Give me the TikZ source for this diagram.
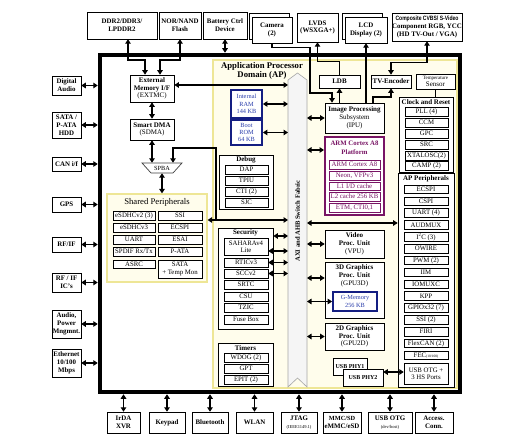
\documentclass[tikz,border=0pt]{standalone}
\usepackage{fontspec}
\setmainfont{Liberation Serif}
\newfontfamily\narrowsans[FakeStretch=0.8]{Liberation Sans}
\usetikzlibrary{arrows.meta,shadows,calc}
\definecolor{cream}{RGB}{255,253,236}
\definecolor{ylw}{RGB}{238,230,150}
\definecolor{navy}{RGB}{20,30,130}
\definecolor{blu}{RGB}{40,60,170}
\definecolor{purp}{RGB}{120,20,100}
\newcommand\mybox[7]{%
  \pgfmathsetmacro\mbw{#5-#3}%
  \pgfmathsetmacro\mbh{#6-#4}%
  \pgfmathsetmacro\mbx{(#3+#5)/2}%
  \pgfmathsetmacro\mby{(#4+#6)/2}%
  \node[#1, minimum width=\mbw pt, minimum height=\mbh pt] (#2) at (\mbx,\mby) {#7};}
\tikzset{
 ext/.style={draw, fill=white, line width=0.5pt, drop shadow={shadow xshift=0.9pt,shadow yshift=-0.9pt,opacity=1,fill=black}, align=center, inner sep=0pt, font=\bfseries\fontsize{6.9}{7.8}\selectfont},
 item/.style={draw, fill=white, line width=0.5pt, drop shadow={shadow xshift=0.7pt,shadow yshift=-0.7pt,opacity=1,fill=black}, align=center, inner sep=0pt, font=\fontsize{6.8}{7.4}\selectfont},
 grp/.style={draw, fill=white, line width=0.6pt, drop shadow={shadow xshift=0.8pt,shadow yshift=-0.8pt,opacity=1,fill=black}, align=center, inner sep=0pt},
 grptxt/.style={grp, font=\fontsize{7}{7.8}\selectfont},
 ttl/.style={inner sep=0pt, align=center, font=\bfseries\fontsize{7}{7.5}\selectfont},
 mem/.style={draw=navy, line width=1.8pt, fill=white, align=center, inner sep=0pt, text=blu, font=\fontsize{6.3}{7.4}\selectfont},
 pitem/.style={draw=purp, line width=0.7pt, fill=white, align=center, inner sep=0pt, text=purp, font=\fontsize{6.8}{7.4}\selectfont},
 dbl/.style={line width=1.2pt, {Triangle[length=4.5pt,width=5.5pt]}-{Triangle[length=4.5pt,width=5.5pt]}},
 sgl/.style={line width=1.2pt, -{Triangle[length=4.5pt,width=5.5pt]}},
 wire/.style={line width=0.8pt},
}
\begin{document}
\begin{tikzpicture}[x=1pt,y=-1pt]
\fill[white] (0,0) rectangle (505,443);
\useasboundingbox (0,0) rectangle (505,443);
% main chip
\node[draw, line width=4.5pt, fill=white, minimum width=360pt, minimum height=337pt, inner sep=0pt] (chip) at (280,223.5) {};
% AP domain
\mybox{draw=ylw, line width=1.2pt, fill=cream}{ap}{213}{60}{457}{388}{}
\node[inner sep=0pt, align=center, font=\bfseries\fontsize{8.7}{9.7}\selectfont] (aptitle) at (262,71) {Application Processor\\Domain (AP)};
% AXI fabric
\node[minimum width=19pt, minimum height=307pt, inner sep=0pt, outer sep=0pt] (axi) at (297.5,233.5) {};
\draw[draw=gray!70, fill=gray!8, line width=0.6pt] (axi.south west) -- (axi.north west) -- ($(axi.north)+(0,-7)$) -- (axi.north east) -- (axi.south east) -- ($(axi.south)+(0,-9)$) -- cycle;
\node[rotate=90, inner sep=0pt, font=\bfseries\fontsize{6.6}{7}\selectfont] (axit) at (297.5,221) {AXI and AHB Switch Fabric};
% top external
\mybox{ext}{ddr}{87}{12}{157}{39}{DDR2/DDR3/\\LPDDR2}
\mybox{ext}{flash}{159}{12}{201}{39}{NOR/NAND\\Flash}
\mybox{ext}{batt}{203}{12}{247}{39}{Battery Ctrl\\Device}
\mybox{ext}{camb}{249}{13}{289}{39}{}
\mybox{ext}{cam}{252}{17}{292}{43}{Camera\\(2)}
\mybox{ext}{lvds}{297}{13}{338}{42}{LVDS\\(WSXGA+)}
\mybox{ext}{lcdb}{342}{13}{382}{39}{}
\mybox{ext}{lcd}{345}{17}{387}{43}{LCD\\Display (2)}
\mybox{ext}{comp}{392}{13}{462}{41}{\narrowsans\fontsize{6.3}{8}\selectfont Composite CVBS/ S-Video\\Component RGB, YCC\\(HD TV-Out / VGA)}
% left external
\mybox{ext}{daudio}{52}{76}{81}{95}{Digital\\Audio}
\mybox{ext}{sata}{52}{112}{81}{138}{SATA /\\P-ATA\\HDD}
\mybox{ext}{can}{52}{157}{81}{171}{CAN i/f}
\mybox{ext}{gps}{52}{197}{81}{212}{GPS}
\mybox{ext}{rfif}{52}{237}{81}{252}{RF/IF}
\mybox{ext}{rfic}{52}{273}{81}{292}{RF / IF\\IC's}
\mybox{ext}{audio}{52}{310}{81}{338}{Audio,\\Power\\Mngmnt.}
\mybox{ext}{eth}{52}{349}{81}{377}{Ethernet\\10/100\\Mbps}
% bottom external
\mybox{ext}{irda}{107}{412}{140}{433}{IrDA\\XVR}
\mybox{ext}{keypad}{149}{412}{185}{433}{Keypad}
\mybox{ext}{bt}{192}{412}{228}{433}{Bluetooth}
\mybox{ext}{wlan}{236}{412}{273}{433}{WLAN}
\mybox{ext}{jtag}{281}{412}{317}{433}{JTAG\\{\mdseries\fontsize{4.5}{5.5}\selectfont(IEEE1149.1)}}
\mybox{ext}{mmc}{323}{412}{361}{433}{\fontsize{6.3}{7.6}\selectfont MMC/SD\\eMMC/eSD}
\mybox{ext}{usbotg}{368}{412}{412}{433}{USB OTG\\{\mdseries\fontsize{4.5}{5.5}\selectfont(dev/host)}}
\mybox{ext}{access}{415}{412}{453}{433}{Access.\\Conn.}
% left internal
\mybox{grptxt}{extmc}{130}{75}{174}{102}{\textbf{External}\\\textbf{Memory I/F}\\(EXTMC)}
\mybox{grptxt}{sdma}{130}{119}{174}{140}{\textbf{Smart DMA}\\(SDMA)}
\draw[draw=black!75, fill=white, line width=0.7pt] (142,163) -- (182,163) -- (173,173) -- (151,173) -- cycle;
\node[inner sep=0pt, minimum width=40pt, minimum height=10pt, font=\fontsize{6.3}{7}\selectfont] (spba) at (162,168) {SPBA};
% shared peripherals
\mybox{draw=ylw, line width=1.2pt, fill=cream}{shp}{107}{194}{207}{282}{}
\node[inner sep=0pt, font=\fontsize{8.7}{9}\selectfont] (shpt) at (157,202) {Shared Peripherals};
\mybox{item}{s1}{113}{211}{155}{220}{eSDHCv2 (3)}
\mybox{item}{s2}{158}{211}{202}{220}{SSI}
\mybox{item}{s3}{113}{223}{155}{232}{eSDHCv3}
\mybox{item}{s4}{158}{223}{202}{232}{ECSPI}
\mybox{item}{s5}{113}{235}{155}{244}{UART}
\mybox{item}{s6}{158}{235}{202}{244}{ESAI}
\mybox{item}{s7}{113}{247}{155}{256}{SPDIF Rx/Tx}
\mybox{item}{s8}{158}{247}{202}{256}{P-ATA}
\mybox{item}{s9}{113}{260}{155}{268}{ASRC}
\mybox{item}{s10}{158}{260}{202}{278}{SATA\\+ Temp Mon}
% memories
\mybox{mem}{ram}{231}{90}{262}{118}{Internal\\RAM\\144 KB}
\mybox{mem}{rom}{231}{120}{262}{145}{Boot\\ROM\\64 KB}
% debug
\mybox{grp}{dbg}{219}{155}{273}{209}{}
\node[ttl] (dbgt) at (246,160) {Debug};
\mybox{item}{d1}{225}{165}{268}{174}{DAP}
\mybox{item}{d2}{225}{176}{268}{185}{TPIU}
\mybox{item}{d3}{225}{187}{268}{196}{CTI (2)}
\mybox{item}{d4}{225}{198}{268}{207}{SJC}
% security
\mybox{grp}{sec}{218}{228}{273}{329}{}
\node[ttl] (sect) at (245.5,233) {Security};
\mybox{item}{sahara}{224}{238}{268}{255}{SAHARAv4\\Lite}
\mybox{item}{rtic}{224}{258}{268}{267}{RTICv3}
\mybox{item}{scc}{224}{269}{268}{278}{SCCv2}
\mybox{item}{srtc}{224}{280}{268}{289}{SRTC}
\mybox{item}{csu}{224}{292}{268}{301}{CSU}
\mybox{item}{tzic}{224}{303}{268}{312}{TZIC}
\mybox{item}{fuse}{224}{315}{268}{324}{Fuse Box}
% timers
\mybox{grp}{tmr}{218}{343}{273}{386}{}
\node[ttl] (tmrt) at (245.5,348) {Timers};
\mybox{item}{t1}{224}{353}{268}{362}{WDOG (2)}
\mybox{item}{t2}{224}{364}{268}{373}{GPT}
\mybox{item}{t3}{224}{375}{268}{384}{EPIT (2)}
% right column
\mybox{grptxt}{ldb}{319}{75}{360}{88}{\textbf{LDB}}
\mybox{grptxt}{tv}{371}{75}{411}{88}{\textbf{TV-Encoder}}
\mybox{grptxt}{temp}{416}{74}{455}{89}{\fontsize{5}{5.8}\selectfont Temperature\\Sensor}
\mybox{grptxt}{ipu}{325}{103}{384}{133}{\textbf{Image Processing}\\Subsystem\\(IPU)}
\mybox{draw=purp, line width=2pt, fill=white}{arm}{325}{137}{384}{215}{}
\node[ttl, text=purp, font=\bfseries\fontsize{6.8}{8.5}\selectfont] (armt) at (354.5,148) {ARM Cortex A8\\Platform};
\mybox{pitem}{p1}{329}{160}{380}{169}{ARM Cortex A8}
\mybox{pitem}{p2}{329}{171}{380}{180}{Neon, VFPv3}
\mybox{pitem}{p3}{329}{182}{380}{190}{L1 I/D cache}
\mybox{pitem}{p4}{329}{192}{380}{201}{L2 cache 256 KB}
\mybox{pitem}{p5}{329}{203}{380}{212}{ETM, CTI0,1}
\mybox{grptxt}{vpu}{325}{230}{384}{258}{\textbf{Video}\\\textbf{Proc. Unit}\\(VPU)}
\mybox{grp}{g3d}{325}{262}{384}{318}{}
\node[inner sep=0pt, align=center, font=\fontsize{7}{7.8}\selectfont] (g3dt) at (354.5,276) {\textbf{3D Graphics}\\\textbf{Proc. Unit}\\(GPU3D)};
\mybox{mem}{gmem}{333}{292}{377}{311}{G-Memory\\256 KB}
\mybox{grptxt}{g2d}{325}{323}{384}{350}{\textbf{2D Graphics}\\\textbf{Proc. Unit}\\(GPU2D)}
\mybox{ext}{phy1}{333}{358}{367}{375}{\fontsize{6}{7}\selectfont USB PHY1}
\mybox{ext}{phy2}{343}{369}{383}{386}{\fontsize{6}{7}\selectfont USB PHY2}
% clock and reset
\mybox{grp}{clk}{399}{97}{453}{172}{}
\node[ttl] (clkt) at (426,102) {Clock and Reset};
\mybox{item}{c1}{405}{107}{448}{116}{PLL (4)}
\mybox{item}{c2}{405}{118}{448}{127}{CCM}
\mybox{item}{c3}{405}{129}{448}{138}{GPC}
\mybox{item}{c4}{405}{140}{448}{149}{SRC}
\mybox{item}{c5}{405}{151}{448}{160}{XTALOSC(2)}
\mybox{item}{c6}{405}{161}{448}{170}{CAMP (2)}
% AP peripherals
\mybox{grp}{apper}{398}{173}{454}{387}{}
\node[ttl] (appert) at (426,179) {AP Peripherals};
\foreach \t [count=\i from 0] in {ECSPI, CSPI, UART (4), AUDMUX, I\textsuperscript{2}C (3), OWIRE, PWM (2), IIM, IOMUXC, KPP, GPIOx32 (7), SSI (2), FIRI, FlexCAN (2), {FEC{\fontsize{3.5}{4}\selectfont(10/100)}}}
  {\node[item, minimum width=44pt, minimum height=8.5pt] (app\i) at (426,185+\i*11.86+4.25) {\t};}
\mybox{item}{usbotg3}{404}{363}{448}{384}{USB OTG +\\3 HS Ports}
% ---- connectors ----
\draw[dbl] (ddr.south -| 128,0) -- (128,60) -| (145,0 |- extmc.north);
\draw[dbl] (flash.south) -- (180,60) -| (160,0 |- extmc.north);
\draw[dbl] (batt.south) -- (batt.south |- chip.north);
\draw[sgl] (cam.south) -- ++(0,4) -| (310,93) -| (332,0 |- ipu.north);
\draw[sgl] (ldb.north) -- ++(0,-13) -| (lvds.south);
\draw[sgl] (ldb.south |- ipu.north) -- (ldb.south);
\draw[sgl] (lcd.south |- ipu.north) -- (lcd.south);
\draw[sgl] (373,0 |- ipu.north) -- (373,97) -| (tv.south);
\draw[dbl] (tv.north) -- ++(0,-12) -| (comp.south);
\draw[wire] (temp.south) -- (temp.south |- clk.north);
\draw[dbl] (extmc.east |- 0,85) -- (axi.west |- 0,85);
\draw[dbl] (extmc.south) -- (sdma.north);
\draw[dbl] (sdma.south) -- (sdma.south |- spba.north);
\draw[sgl] (216,220) -- (216,148) -| (173,0 |- spba.north);
\draw[dbl] (spba.south) -- (spba.south |- shp.north);
\draw[dbl] (shp.east |- 0,220) -- (axi.west |- 0,220);
\draw[dbl] (ram.east) -- (ram.east -| axi.west);
\draw[dbl] (rom.east) -- (rom.east -| axi.west);
\draw[dbl] (sec.east |- 0,236) -- (axi.west |- 0,236);
\draw[dbl] (sahara.east |- 0,251) -- (axi.west |- 0,251);
\draw[dbl] (rtic.east) -- (rtic.east -| axi.west);
\draw[dbl] (scc.east) -- (scc.east -| axi.west);
\draw[dbl] (axi.east |- ipu.west) -- (ipu.west);
\draw[dbl] (axi.east |- 0,150) -- (arm.west |- 0,150);
\draw[dbl] (axi.east |- 0,223) -- (apper.west |- 0,223);
\draw[dbl] (axi.east |- vpu.west) -- (vpu.west);
\draw[dbl] (axi.east |- 0,278) -- (g3d.west |- 0,278);
\draw[dbl] (axi.east |- gmem.west) -- (gmem.west);
\draw[dbl] (axi.east |- g2d.west) -- (g2d.west);
\draw[dbl] (phy2.east |- 0,372) -- (usbotg3.west |- 0,372);
\foreach \n in {daudio,sata,can,gps,rfif,rfic,audio,eth}
  \draw[dbl] (\n.east) -- (\n.east -| chip.west);
\foreach \n in {irda,keypad,bt,wlan,jtag,mmc,usbotg,access}
  \draw[dbl] (\n.north) -- (\n.north |- chip.south);
\end{tikzpicture}
\end{document}
